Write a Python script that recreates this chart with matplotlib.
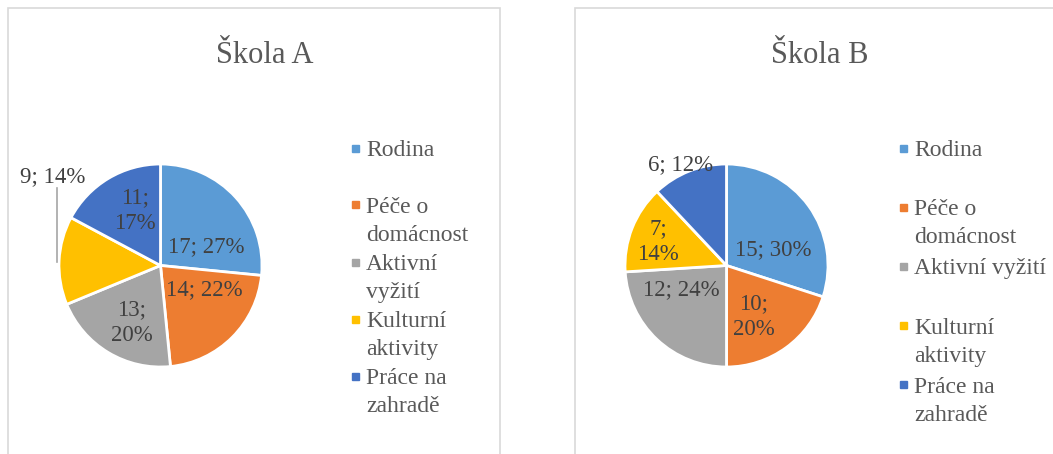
import numpy as np
import matplotlib.pyplot as plt
from matplotlib.patches import Rectangle

plt.rcParams['font.family'] = ['Liberation Serif', 'DejaVu Serif']

# data
categories = ['Rodina', 'Péče o domácnost', 'Aktivní vyžití', 'Kulturní aktivity', 'Práce na zahradě']
values_a = [17, 14, 13, 9, 11]
values_b = [15, 10, 12, 7, 6]
titles = ['Škola A', 'Škola B']

# legend text wrapped like in the original
legend_a = ['Rodina', 'Péče o\ndomácnost', 'Aktivní\nvyžití', 'Kulturní\naktivity', 'Práce na\nzahradě']
legend_b = ['Rodina', 'Péče o\ndomácnost', 'Aktivní vyžití', 'Kulturní\naktivity', 'Práce na\nzahradě']

colors = ['#5B9BD5', '#ED7D31', '#A5A5A5', '#FFC000', '#4472C4']

# label placement (x, y in pie radius units, wrapped?, outside with leader?)
lab_a = [(0.448, 0.182, False, False), (0.429, -0.241, False, False),
         (-0.281, -0.562, True, False), (-1.059, 0.872, False, True),
         (-0.251, 0.542, True, False)]
lab_b = [(0.458, 0.153, False, False), (0.271, -0.502, True, False),
         (-0.448, -0.241, False, False), (-0.675, 0.236, True, False),
         (-0.448, 0.990, False, False)]

W, H = 1053, 454
R = 101.5          # pie radius in px
LIM = 1.5


def fx(x):
    return x / W


def fy(y):
    return 1 - y / H


fig = plt.figure(figsize=(W / 100, H / 100), dpi=100)

# chart frames
for x0, x1 in [(8, 500), (575, 1060)]:
    fig.add_artist(Rectangle((fx(x0), fy(460)), (x1 - x0) / W, 452 / H,
                             transform=fig.transFigure, fill=False,
                             edgecolor='#D9D9D9', linewidth=1.2))


def draw_chart(vals, legend_lbls, labpos, title, cx, cy, title_x, leg_x, leg_y0, leg_step):
    half = LIM * R
    ax = fig.add_axes([fx(cx - half), fy(cy + half), 2 * half / W, 2 * half / H])
    wedges, _ = ax.pie(vals, colors=colors, startangle=90, counterclock=False,
                       wedgeprops=dict(edgecolor='white', linewidth=2))
    ax.set_xlim(-LIM, LIM)
    ax.set_ylim(-LIM, LIM)
    total = sum(vals)
    dy = 13 / R
    for v, (x, y, wrap, outside), w in zip(vals, labpos, wedges):
        pct = round(100 * v / total)
        lines = [f'{v};', f'{pct}%'] if wrap else [f'{v}; {pct}%']
        for k, s in enumerate(lines):
            yy = y + (len(lines) - 1) * dy - 2 * k * dy
            ax.text(x, yy, s, ha='center', va='center',
                    fontsize=16.5, color='#404040')
        if outside:
            mid = np.deg2rad((w.theta1 + w.theta2) / 2)
            lx = x + 0.04
            ax.plot([lx, lx], [y - 0.108, np.sin(mid) - 0.01], color='#A6A6A6', lw=1.2)

    fig.text(fx(title_x), fy(63), title, ha='center', va='baseline',
             fontsize=22, color='#595959')

    for i, (lbl, c) in enumerate(zip(legend_lbls, colors)):
        my = leg_y0 + i * leg_step
        fig.add_artist(Rectangle((fx(leg_x - 3.5), fy(my + 3.5)), 7 / W, 7 / H,
                                 transform=fig.transFigure, color=c))
        for k, s in enumerate(lbl.split('\n')):
            fig.text(fx(leg_x + 11), fy(my + 8 + 28 * k), s, ha='left', va='baseline',
                     fontsize=17, color='#595959')


draw_chart(values_a, legend_a, lab_a, titles[0], 160.5, 265.5, 264.5, 355, 148, 57)
draw_chart(values_b, legend_b, lab_b, titles[1], 726.5, 265.5, 820, 903, 148, 59.2)

fig.savefig('out.png', dpi=100)
